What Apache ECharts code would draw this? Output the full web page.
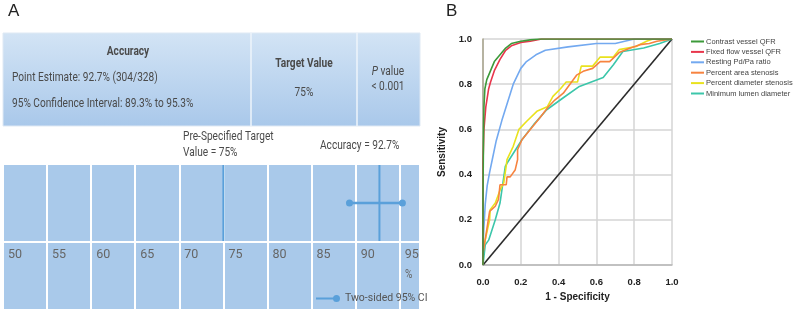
<!DOCTYPE html>
<html>
<head>
<meta charset="utf-8">
<script src="https://cdn.jsdelivr.net/npm/echarts@6/dist/echarts.min.js"></script>
<style>
  html, body { margin: 0; padding: 0; background: #fff; }
  #chart { width: 800px; height: 325px; }
</style>
</head>
<body>
<div id="chart"></div>
<script>
// ---------- Panel A: accuracy against the pre-specified target ----------
const pctTicks = [50, 55, 60, 65, 70, 75, 80, 85, 90, 95];
const targetValue = 75;
const accuracyValue = 92.7;
const ciLower = 89.3;
const ciUpper = 95.3;
const correctCount = 304;
const totalCount = 328;
const pValueText = '< 0.001';

// ---------- Panel B: ROC curves (1 - specificity, sensitivity) ----------
const rocNames = [
  'Contrast vessel QFR',
  'Fixed flow vessel QFR',
  'Resting Pd/Pa ratio',
  'Percent area stenosis',
  'Percent diameter stenosis',
  'Minimum lumen diameter'
];
const rocColors = ['#3d9a3a', '#e8364c', '#73a9f0', '#f7833f', '#e9e21e', '#3cc6aa'];

const contrastQfr = [[0,0],[0,0.3],[0.003,0.6],[0.005,0.7],[0.01,0.78],[0.02,0.82],[0.04,0.86],[0.06,0.9],[0.09,0.93],[0.12,0.96],[0.15,0.98],[0.2,0.99],[0.25,0.996],[0.3,1],[1,1]];
const fixedFlowQfr = [[0,0],[0,0.45],[0.005,0.6],[0.015,0.7],[0.03,0.78],[0.04,0.81],[0.06,0.86],[0.09,0.91],[0.12,0.95],[0.15,0.97],[0.2,0.985],[0.25,0.99],[0.31,1],[1,1]];
const restingPdPa = [[0,0],[0,0.08],[0.005,0.17],[0.012,0.27],[0.022,0.35],[0.035,0.41],[0.05,0.47],[0.07,0.55],[0.1,0.64],[0.13,0.72],[0.16,0.8],[0.2,0.87],[0.23,0.9],[0.28,0.93],[0.33,0.95],[0.45,0.965],[0.6,0.98],[0.7,0.98],[0.75,0.99],[0.8,1],[1,1]];
const areaStenosis = [[0,0],[0,0.05],[0.02,0.156],[0.035,0.237],[0.065,0.26],[0.082,0.29],[0.09,0.355],[0.123,0.355],[0.127,0.39],[0.144,0.39],[0.17,0.42],[0.183,0.466],[0.183,0.51],[0.206,0.554],[0.25,0.6],[0.3,0.65],[0.346,0.7],[0.38,0.73],[0.425,0.76],[0.46,0.8],[0.495,0.84],[0.53,0.857],[0.58,0.87],[0.62,0.9],[0.67,0.9],[0.72,0.94],[0.78,0.96],[0.83,0.975],[0.88,0.98],[0.92,0.99],[1,1]];
const diameterStenosis = [[0,0],[0,0.07],[0.008,0.097],[0.035,0.2],[0.038,0.245],[0.065,0.274],[0.091,0.333],[0.11,0.363],[0.123,0.44],[0.127,0.466],[0.16,0.525],[0.19,0.6],[0.23,0.635],[0.285,0.68],[0.34,0.7],[0.37,0.746],[0.41,0.78],[0.44,0.81],[0.5,0.81],[0.52,0.88],[0.58,0.88],[0.62,0.92],[0.69,0.92],[0.72,0.953],[0.81,0.967],[0.865,0.99],[0.9,1],[1,1]];
const minLumenDiameter = [[0,0],[0.012,0.09],[0.03,0.11],[0.065,0.2],[0.09,0.274],[0.118,0.436],[0.127,0.45],[0.206,0.554],[0.267,0.62],[0.337,0.687],[0.425,0.74],[0.51,0.79],[0.636,0.83],[0.69,0.886],[0.74,0.945],[0.85,0.96],[0.935,0.98],[1,1]];
const referenceLine = [[0,0],[1,1]];

const rocData = [contrastQfr, fixedFlowQfr, restingPdPa, areaStenosis, diameterStenosis, minLumenDiameter];

const uiFont = "'Roboto', 'Liberation Sans', sans-serif";
const txtColor = '#4a4a4a';
const cellBlue = '#a9c9ea';
const markBlue = '#5aa0da';
const squeeze = 0.75;   // condensed look for the table text

const chart = echarts.init(document.getElementById('chart'), null, { renderer: 'canvas' });

const rocSeries = rocNames.map((name, i) => ({
  name: name,
  type: 'line',
  xAxisIndex: 2,
  yAxisIndex: 2,
  data: rocData[i],
  symbol: 'none',
  smooth: false,
  color: rocColors[i],
  lineStyle: { width: 1.6, color: rocColors[i] },
  z: 3 + (5 - i)
}));

// condensed text element helper
function label(x, y, text, opts) {
  opts = opts || {};
  return {
    type: 'text', x: x, y: y, scaleX: squeeze, z: opts.z || 2,
    style: {
      text: text,
      font: (opts.bold ? 'bold ' : '') + (opts.size || 13.5) + 'px ' + uiFont,
      fill: opts.color || txtColor,
      align: opts.align || 'left',
      verticalAlign: 'middle',
      rich: opts.rich
    }
  };
}

const option = {
  animation: false,
  backgroundColor: '#ffffff',
  grid: [
    { left: 3, width: 417, top: 165, height: 76, show: true, backgroundColor: cellBlue, borderWidth: 0 },
    { left: 3, width: 417, top: 243, height: 66, show: true, backgroundColor: cellBlue, borderWidth: 0 },
    { left: 483, right: 128, top: 39, bottom: 60, show: false }
  ],
  xAxis: [
    {
      gridIndex: 0, type: 'value', min: 50, max: 97.3, interval: 5,
      axisLine: { show: false }, axisTick: { show: false }, axisLabel: { show: false },
      splitLine: { show: true, lineStyle: { color: '#ffffff', width: 2 } }
    },
    {
      gridIndex: 1, type: 'value', min: 50, max: 97.3, interval: 5, position: 'top',
      axisLine: { show: false }, axisTick: { show: false },
      axisLabel: {
        inside: true, align: 'left', verticalAlign: 'top', margin: 5,
        padding: [0, 0, 0, 5], showMaxLabel: false,
        fontFamily: uiFont, fontSize: 12.5, color: '#666',
        formatter: v => (pctTicks.indexOf(v) >= 0 ? String(v) : '')
      },
      splitLine: { show: true, lineStyle: { color: '#ffffff', width: 2 } }
    },
    {
      gridIndex: 2, type: 'value', min: 0, max: 1, interval: 0.2,
      name: '1 - Specificity', nameLocation: 'middle', nameGap: 26,
      nameTextStyle: { fontFamily: 'Liberation Sans, sans-serif', fontWeight: 'bold', fontSize: 10, color: '#222' },
      axisLine: { show: true, lineStyle: { color: '#b8b8b8', width: 1.5 } },
      axisTick: { show: false },
      axisLabel: { margin: 12, fontFamily: 'Liberation Sans, sans-serif', fontWeight: 'bold', fontSize: 9.5, color: '#222', formatter: v => v.toFixed(1) },
      splitLine: { show: true, lineStyle: { color: '#d4d4d4', width: 1.5 } }
    }
  ],
  yAxis: [
    { gridIndex: 0, type: 'value', min: 0, max: 1, show: false },
    { gridIndex: 1, type: 'value', min: 0, max: 1, show: false },
    {
      gridIndex: 2, type: 'value', min: 0, max: 1, interval: 0.2,
      name: 'Sensitivity', nameLocation: 'middle', nameGap: 36, nameRotate: 90,
      nameTextStyle: { fontFamily: 'Liberation Sans, sans-serif', fontWeight: 'bold', fontSize: 10, color: '#222' },
      axisLine: { show: true, lineStyle: { color: '#a8a48c', width: 1.5 } },
      axisTick: { show: false },
      axisLabel: { margin: 11, fontFamily: 'Liberation Sans, sans-serif', fontWeight: 'bold', fontSize: 9.5, color: '#222', formatter: v => v.toFixed(1) },
      splitLine: { show: true, lineStyle: { color: '#d4d4d4', width: 1.5 } }
    }
  ],
  legend: [
    {
      data: ['Two-sided 95% CI'],
      left: 311, top: 288,
      icon: 'path://M0,3L18,3L18,5L0,5Z M17,4A3.5,3.5 0 1 1 24,4A3.5,3.5 0 1 1 17,4Z',
      itemWidth: 24, itemHeight: 7, itemGap: 0,
      textStyle: { fontFamily: uiFont, fontSize: 10.5, color: '#555' }
    },
    {
      data: rocNames,
      orient: 'vertical', left: 691, top: 37,
      icon: 'rect', itemWidth: 13, itemHeight: 2, itemGap: 1.4,
      padding: 0,
      textStyle: { fontFamily: 'Liberation Sans, sans-serif', fontSize: 7.5, lineHeight: 9, color: '#444', padding: [0, 0, 0, -3] }
    }
  ],
  series: [
    {
      name: 'Pre-Specified Target', type: 'line', xAxisIndex: 0, yAxisIndex: 0,
      data: [[targetValue, 0], [targetValue, 1]], symbol: 'none',
      lineStyle: { color: markBlue, width: 2 }, z: 5
    },
    {
      name: 'Accuracy', type: 'line', xAxisIndex: 0, yAxisIndex: 0,
      data: [[accuracyValue, 0], [accuracyValue, 1]], symbol: 'none',
      lineStyle: { color: markBlue, width: 2 }, z: 5
    },
    {
      name: 'Two-sided 95% CI', type: 'line', xAxisIndex: 0, yAxisIndex: 0,
      data: [[ciLower, 0.5], [ciUpper, 0.5]], symbol: 'circle', symbolSize: 7,
      color: markBlue, itemStyle: { color: markBlue },
      lineStyle: { color: markBlue, width: 2.5 }, z: 6
    },
    {
      name: 'Reference', type: 'line', xAxisIndex: 2, yAxisIndex: 2,
      data: referenceLine, symbol: 'none',
      lineStyle: { color: '#2b2b2b', width: 1.6 }, z: 2
    }
  ].concat(rocSeries),
  graphic: [
    // panel letters
    { type: 'text', left: 8, top: 3, style: { text: 'A', font: '17px "Liberation Sans", sans-serif', fill: '#222' } },
    { type: 'text', left: 446, top: 3, style: { text: 'B', font: '17px "Liberation Sans", sans-serif', fill: '#222' } },
    // summary table header
    {
      type: 'rect', shape: { x: 3, y: 33, width: 417, height: 93 },
      style: {
        fill: new echarts.graphic.LinearGradient(0, 0, 0, 1, [
          { offset: 0, color: '#d3e4f5' },
          { offset: 1, color: '#a9c8ea' }
        ]),
        stroke: '#dfe9f4', lineWidth: 1
      }, z: 0
    },
    { type: 'line', shape: { x1: 251, y1: 33, x2: 251, y2: 126 }, style: { stroke: '#eef4fb', lineWidth: 1.5 }, z: 1 },
    { type: 'line', shape: { x1: 357, y1: 33, x2: 357, y2: 126 }, style: { stroke: '#eef4fb', lineWidth: 1.5 }, z: 1 },
    label(128, 52, 'Accuracy', { bold: true, align: 'center' }),
    label(12, 78, 'Point Estimate: ' + accuracyValue + '% (' + correctCount + '/' + totalCount + ')'),
    label(12, 104, '95% Confidence Interval: ' + ciLower + '% to ' + ciUpper + '%'),
    label(304, 64, 'Target Value', { bold: true, align: 'center' }),
    label(304, 93, targetValue + '%', { align: 'center' }),
    label(388, 72, '{i|P} value', {
      align: 'center',
      rich: { i: { fontStyle: 'italic', fontFamily: uiFont, fontSize: 13.5, color: txtColor } }
    }),
    label(388, 87, pValueText, { align: 'center' }),
    // annotations above the interval plot
    label(183, 137, 'Pre-Specified Target'),
    label(183, 153, 'Value = ' + targetValue + '%'),
    label(320, 146, 'Accuracy = ' + accuracyValue + '%'),
    label(405, 275, '%', { color: '#666', z: 5 })
  ]
};

chart.setOption(option);
</script>
</body>
</html>
